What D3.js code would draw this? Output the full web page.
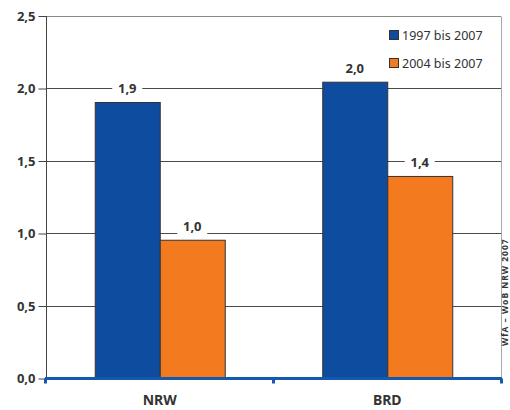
<!DOCTYPE html>
<html>
<head>
<meta charset="utf-8">
<script src="https://cdn.jsdelivr.net/npm/d3@7"></script>
<style>
  html, body { margin: 0; padding: 0; background: #fff; }
  svg { display: block; font-family: "Noto Sans", "Open Sans", sans-serif; }
</style>
</head>
<body>
<svg id="chart" width="510" height="410"></svg>
<script>
// Regions on the x axis
const categories = ["NRW", "BRD"];
// Periods (one bar per period in each region)
const seriesNames = ["1997 bis 2007", "2004 bis 2007"];
const values1997 = [1.90, 2.04];
const values2004 = [0.95, 1.39];
const seriesColors = ["#0d4c9e", "#f47a20"];
const yTicks = [0, 0.5, 1.0, 1.5, 2.0, 2.5];
const sourceNote = "WfA – WoB NRW 2007";

const seriesValues = [values1997, values2004];
const data = categories.map((c, i) => ({
  cat: c,
  bars: seriesNames.map((s, j) => ({ series: s, value: seriesValues[j][i], color: seriesColors[j] }))
}));

const svg = d3.select("#chart");
const plotLeft = 46, plotRight = 501, plotTop = 15.5, plotBottom = 378;

const y = d3.scaleLinear().domain([0, 2.5]).range([plotBottom, plotTop]);
const x0 = d3.scaleBand().domain(categories).range([plotLeft, plotRight])
  .paddingInner(0.4286).paddingOuter(0.2143);
const x1 = d3.scaleBand().domain(seriesNames).range([0, x0.bandwidth()]);

const fmt = v => (Math.round(v * 10) / 10).toFixed(1).replace(".", ",");

// Horizontal grid lines
svg.append("g").selectAll("line").data(yTicks.slice(1)).join("line")
  .attr("x1", plotLeft).attr("x2", plotRight)
  .attr("y1", d => Math.round(y(d)) + 0.5).attr("y2", d => Math.round(y(d)) + 0.5)
  .attr("stroke", d => d === 2.5 ? "#8a8a8a" : "#4a4a4a").attr("stroke-width", 1);

// Right frame line
svg.append("line")
  .attr("x1", plotRight + 0.5).attr("x2", plotRight + 0.5)
  .attr("y1", Math.round(y(2.5)) + 0.5).attr("y2", plotBottom)
  .attr("stroke", "#a8a8a8").attr("stroke-width", 1);

// Y axis
const yAxis = d3.axisLeft(y).tickValues(yTicks).tickSize(8).tickPadding(3)
  .tickFormat(d => d.toFixed(1).replace(".", ","));
const gy = svg.append("g").attr("transform", `translate(${plotLeft + 0.5},0.5)`).call(yAxis);
gy.select(".domain").attr("stroke", "#444").attr("d", `M0,${y(2.5)}V${plotBottom}`);
gy.selectAll(".tick line").attr("stroke", "#444");
gy.selectAll(".tick text").attr("fill", "#333").attr("font-size", 13).attr("font-weight", "bold")
  .attr("font-family", "'Noto Sans', sans-serif");

// Bars
const groups = svg.append("g").selectAll("g").data(data).join("g")
  .attr("transform", d => `translate(${x0(d.cat)},0)`);
groups.selectAll("rect").data(d => d.bars).join("rect")
  .attr("x", d => x1(d.series) + 0.5)
  .attr("y", d => y(d.value))
  .attr("width", x1.bandwidth())
  .attr("height", d => plotBottom - y(d.value))
  .attr("fill", d => d.color)
  .attr("stroke", "#333").attr("stroke-width", 1);

// Value labels with white backing over the grid lines
const lbl = groups.selectAll("g.lbl").data(d => d.bars).join("g").attr("class", "lbl")
  .attr("transform", d => `translate(${x1(d.series) + x1.bandwidth() / 2},${y(d.value) - 14})`);
lbl.append("rect").attr("x", -15).attr("y", -8).attr("width", 30).attr("height", 16).attr("fill", "#fff");
lbl.append("text").attr("text-anchor", "middle").attr("dy", "0.35em")
  .attr("font-size", 13).attr("font-weight", "bold").attr("fill", "#333")
  .text(d => fmt(d.value));

// X axis (blue baseline)
const xAxisScale = d3.scaleLinear().domain([0, 2]).range([plotLeft - 0.5, plotRight + 0.5]);
const gx = svg.append("g").attr("transform", `translate(0,${plotBottom + 0.5})`);
gx.append("line").attr("x1", plotLeft - 1).attr("x2", plotRight + 1).attr("y1", 0).attr("y2", 0)
  .attr("stroke", "#1558b0").attr("stroke-width", 3);
gx.selectAll("line.t").data([0, 1, 2]).join("line").attr("class", "t")
  .attr("x1", d => xAxisScale(d)).attr("x2", d => xAxisScale(d))
  .attr("y1", 0).attr("y2", 5).attr("stroke", "#1558b0").attr("stroke-width", 3);
gx.selectAll("text").data(categories).join("text")
  .attr("x", d => x0(d) + x0.bandwidth() / 2).attr("y", 26)
  .attr("text-anchor", "middle").attr("font-size", 14).attr("font-weight", "bold").attr("fill", "#333")
  .text(d => d);

// Legend
const legend = svg.append("g").attr("transform", "translate(389,30)");
const li = legend.selectAll("g").data(seriesNames).join("g")
  .attr("transform", (d, i) => `translate(0,${i * 28})`);
li.append("rect").attr("x", 0.5).attr("y", 0.5).attr("width", 9).attr("height", 9)
  .attr("fill", (d, i) => seriesColors[i]).attr("stroke", "#333");
li.append("text").attr("x", 13).attr("y", 9.5).attr("font-size", 12.5).attr("fill", "#333").text(d => d);

// Source note, rotated along the right edge
svg.append("text")
  .attr("transform", "translate(507.5,346) rotate(-90)")
  .attr("font-size", 8.5).attr("font-weight", "bold").attr("letter-spacing", 1).attr("fill", "#333")
  .text(sourceNote);
</script>
</body>
</html>
